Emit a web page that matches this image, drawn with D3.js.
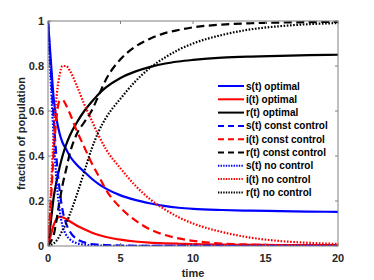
<!DOCTYPE html>
<html><head><meta charset="utf-8">
<script src="https://cdn.jsdelivr.net/npm/d3@7"></script>
<style>body{margin:0;background:#fff;}svg{display:block;}text{font-family:"Liberation Sans",Arial,sans-serif;font-weight:bold;}</style>
</head><body>
<svg id="c" width="374" height="280"></svg>
<script>
const times = [0,0.2,0.4,0.6,0.8,1,1.25,1.5,2,2.5,3,3.5,4,5,6,7,8,9,10,12,14,16,18,20];
const sOptimal = [1,0.82,0.65,0.56,0.50,0.46,0.43,0.40,0.36,0.33,0.30,0.275,0.255,0.225,0.205,0.19,0.178,0.17,0.165,0.16,0.157,0.155,0.153,0.152];
const iOptimal = [0,0.05,0.095,0.12,0.13,0.128,0.12,0.11,0.09,0.074,0.06,0.049,0.04,0.028,0.02,0.015,0.012,0.01,0.008,0.006,0.005,0.0045,0.004,0.004];
const rOptimal = [0,0.11,0.22,0.29,0.35,0.40,0.45,0.49,0.55,0.60,0.64,0.676,0.705,0.747,0.775,0.795,0.81,0.82,0.827,0.837,0.842,0.845,0.848,0.85];
const sConst = [1,0.78,0.56,0.38,0.25,0.16,0.1,0.065,0.03,0.016,0.009,0.006,0.004,0.002,0.001,0.001,0.001,0.001,0.001,0.001,0.001,0.001,0.001,0.001];
const iConst = [0,0.2,0.42,0.58,0.645,0.65,0.625,0.59,0.51,0.44,0.37,0.31,0.25,0.17,0.115,0.075,0.05,0.034,0.023,0.011,0.006,0.003,0.002,0.001];
const rConst = [0,0.02,0.05,0.12,0.2,0.27,0.34,0.41,0.5,0.55,0.6,0.67,0.74,0.83,0.885,0.92,0.945,0.96,0.972,0.984,0.99,0.993,0.995,0.996];
const sNone = [1,0.72,0.47,0.28,0.16,0.09,0.05,0.03,0.012,0.006,0.003,0.002,0.001,0.0005,0.0005,0.0005,0.0005,0.0005,0.0005,0.0005,0.0005,0.0005,0.0005,0.0005];
const iNone = [0,0.25,0.5,0.67,0.76,0.80,0.80,0.78,0.71,0.63,0.56,0.49,0.43,0.345,0.27,0.21,0.165,0.128,0.1,0.062,0.037,0.022,0.014,0.009];
const rNone = [0,0.005,0.012,0.025,0.045,0.07,0.1,0.14,0.23,0.33,0.43,0.51,0.57,0.655,0.73,0.79,0.835,0.872,0.9,0.938,0.963,0.977,0.986,0.991];
const seriesNames = ["s(t) optimal","i(t) optimal","r(t) optimal","s(t) const control","i(t) const control","r(t) const control","s(t) no control","i(t) no control","r(t) no control"];
const seriesValues = [sOptimal,iOptimal,rOptimal,sConst,iConst,rConst,sNone,iNone,rNone];
const seriesColors = ["#0000ff","#ff0000","#000000","#0000ff","#ff0000","#000000","#0000ff","#ff0000","#000000"];
const seriesStyles = ["solid","solid","solid","dash","dash","dash","dot","dot","dot"];
const xTicks = [0,5,10,15,20];
const yTicks = [0,0.2,0.4,0.6,0.8,1];
const xLabel = "time", yLabel = "fraction of population";

const svg = d3.select("#c");
const L=48, R=338, T=21, B=246;
const x = d3.scaleLinear().domain([0,20]).range([L,R]);
const y = d3.scaleLinear().domain([0,1]).range([B,T]);
const dashes = {solid:null, dash:"8,4.5", dot:"1.6,1.6"};
const legDashes = {solid:null, dash:"6,4", dot:"1.4,1.2"};

svg.append("defs").append("clipPath").attr("id","clip").append("rect")
  .attr("x",L).attr("y",T).attr("width",R-L).attr("height",B-T);

const line = d3.line().x((d,i)=>x(times[i])).y(d=>y(d)).curve(d3.curveMonotoneX);
const g = svg.append("g").attr("clip-path","url(#clip)");
seriesValues.forEach((vals,k)=>{
  g.append("path").attr("d",line(vals)).attr("fill","none")
   .attr("stroke",seriesColors[k]).attr("stroke-width",2.2)
   .attr("stroke-dasharray",dashes[seriesStyles[k]]);
});

// axes box
const axCol="#808080";
svg.append("rect").attr("x",L).attr("y",T).attr("width",R-L).attr("height",B-T)
  .attr("fill","none").attr("stroke",axCol).attr("stroke-width",1);
const tl=3;
xTicks.forEach(t=>{
  svg.append("line").attr("x1",x(t)).attr("x2",x(t)).attr("y1",B).attr("y2",B-tl).attr("stroke",axCol);
  svg.append("line").attr("x1",x(t)).attr("x2",x(t)).attr("y1",T).attr("y2",T+tl).attr("stroke",axCol);
  svg.append("text").attr("x",x(t)).attr("y",B+16).attr("text-anchor","middle")
    .attr("font-size",11).attr("fill","#262626").text(d3.format("")(t));
});
yTicks.forEach(t=>{
  svg.append("line").attr("x1",L).attr("x2",L+tl).attr("y1",y(t)).attr("y2",y(t)).attr("stroke",axCol);
  svg.append("line").attr("x1",R).attr("x2",R-tl).attr("y1",y(t)).attr("y2",y(t)).attr("stroke",axCol);
  svg.append("text").attr("x",L-4).attr("y",y(t)+4).attr("text-anchor","end")
    .attr("font-size",11).attr("fill","#262626").text(d3.format("")(t));
});
svg.append("text").attr("x",(L+R)/2).attr("y",277).attr("text-anchor","middle")
  .attr("font-size",11).attr("fill","#262626").text(xLabel);
svg.append("text").attr("transform",`translate(25,${(T+B)/2}) rotate(-90)`).attr("text-anchor","middle")
  .attr("font-size",11).attr("fill","#262626").text(yLabel);

// legend
const lg = svg.append("g");
seriesNames.forEach((n,k)=>{
  const yy = 86 + k*13.3;
  lg.append("line").attr("x1",218).attr("x2",244).attr("y1",yy).attr("y2",yy)
    .attr("stroke",seriesColors[k]).attr("stroke-width",2)
    .attr("stroke-dasharray",legDashes[seriesStyles[k]]);
  lg.append("text").attr("x",246).attr("y",yy+3.5).attr("font-size",10).attr("fill","#000").text(n);
});
</script>
</body></html>
